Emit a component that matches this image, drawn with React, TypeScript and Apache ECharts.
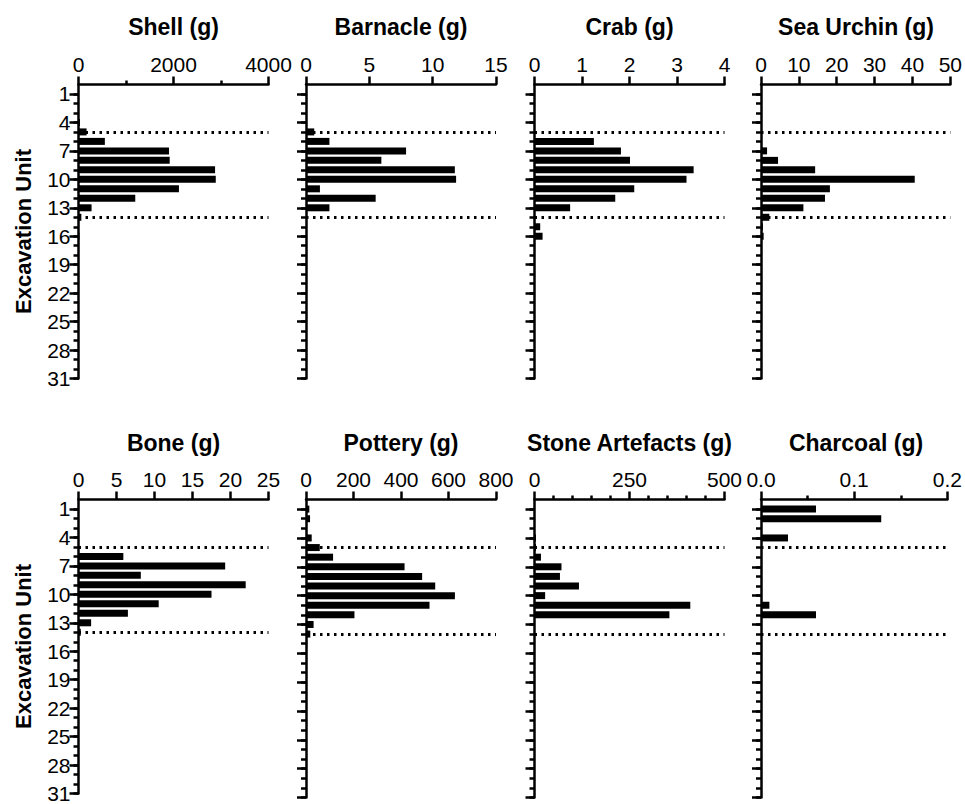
import React, { useEffect, useRef } from 'react';
import * as echarts from 'echarts';

// Category labels: excavation units 0..31 (0 is the empty top slot)
const unitLabels = ['0', '1', '2', '3', '4', '5', '6', '7', '8', '9', '10', '11', '12', '13', '14', '15', '16', '17', '18', '19', '20', '21', '22', '23', '24', '25', '26', '27', '28', '29', '30', '31'];

const panelTitles = ['Shell (g)', 'Barnacle (g)', 'Crab (g)', 'Sea Urchin (g)', 'Bone (g)', 'Pottery (g)', 'Stone Artefacts (g)', 'Charcoal (g)'];
const axisMax = [4000, 15, 4, 50, 25, 800, 500, 0.2];
const axisInterval = [2000, 5, 1, 10, 5, 200, 250, 0.1];
const axisMinorSplit = [2, 0, 0, 0, 0, 0, 5, 2];
const boundaryUnits = [5, 14];

// Values for units 1..31
const shell = [0, 0, 0, 30, 170, 555, 1905, 1920, 2875, 2890, 2115, 1195, 275, 60, 0, 20, 0, 0, 0, 0, 0, 0, 0, 0, 0, 0, 0, 0, 0, 0, 0];
const barnacle = [0, 0, 0, 0, 0.65, 1.85, 7.9, 5.95, 11.75, 11.85, 1.1, 5.5, 1.85, 0, 0, 0, 0, 0, 0, 0, 0, 0, 0, 0, 0, 0, 0, 0, 0, 0, 0];
const crab = [0, 0, 0, 0, 0, 1.25, 1.82, 2.01, 3.35, 3.2, 2.1, 1.7, 0.75, 0, 0.12, 0.17, 0, 0, 0, 0, 0, 0, 0, 0, 0, 0, 0, 0, 0, 0, 0];
const seaUrchin = [0, 0, 0, 0, 0, 0, 1.6, 4.5, 14.3, 40.6, 18.2, 16.9, 11.2, 2.2, 0.5, 0.7, 0, 0, 0, 0, 0, 0, 0, 0, 0, 0, 0, 0, 0, 0, 0];
const bone = [0, 0, 0, 0, 0, 5.9, 19.3, 8.2, 22.0, 17.5, 10.55, 6.5, 1.66, 0.3, 0, 0, 0, 0, 0, 0, 0, 0, 0, 0, 0, 0, 0, 0, 0, 0, 0];
const pottery = [14, 17, 0, 24, 58, 114, 415, 489, 544, 627, 520, 204, 32, 18, 5, 0, 0, 0, 0, 0, 0, 0, 0, 0, 0, 0, 0, 0, 0, 0, 0];
const stoneArtefacts = [0, 0, 0, 4, 4, 17, 71, 67, 117, 28, 410, 355, 0, 0, 0, 0, 0, 0, 0, 0, 0, 0, 0, 0, 0, 0, 0, 0, 0, 0, 0];
const charcoal = [0.059, 0.129, 0, 0.029, 0, 0, 0, 0, 0, 0, 0.009, 0.059, 0, 0, 0, 0, 0, 0, 0, 0, 0, 0, 0, 0, 0, 0, 0, 0, 0, 0, 0];

const panelData = [shell, barnacle, crab, seaUrchin, bone, pottery, stoneArtefacts, charcoal];

const FONT = '"Liberation Sans", Arial, Helvetica, sans-serif';
const colLeft = [78.5, 306, 534.5, 761];
const gridWidth = 190;
const rowTop = [84.5, 499.5];
const rowHeight = [294, 298];
const titleY = [27, 443];

function buildOption() {
  const grid: any[] = [];
  const xAxis: any[] = [];
  const yAxis: any[] = [];
  const series: any[] = [];
  const graphic: any[] = [];
  const lineW = 2.5;

  panelTitles.forEach((title, i) => {
    const row = Math.floor(i / 4);
    const col = i % 4;
    grid.push({ left: colLeft[col], top: rowTop[row], width: gridWidth, height: rowHeight[row], containLabel: false });
    xAxis.push({
      type: 'value', gridIndex: i, position: 'top', min: 0, max: axisMax[i], interval: axisInterval[i],
      axisLine: { show: true, lineStyle: { color: '#000', width: lineW } },
      axisTick: { show: true, length: 8, lineStyle: { color: '#000', width: lineW } },
      minorTick: { show: axisMinorSplit[i] > 0, splitNumber: axisMinorSplit[i] || 5, length: 4, lineStyle: { color: '#000', width: lineW } },
      splitLine: { show: false },
      axisLabel: {
        show: true, color: '#000', fontSize: 21, fontFamily: FONT, margin: 10,
        formatter: i === 7 ? (v: number) => v.toFixed(1) : (v: number) => String(v),
      },
    });
    // minor-tick axis (carries the bars)
    yAxis.push({
      type: 'category', gridIndex: i, position: 'left', inverse: true, boundaryGap: false, data: unitLabels,
      axisLine: { show: true, onZero: false, lineStyle: { color: '#000', width: lineW } },
      axisTick: { show: true, length: 5, interval: (idx: number) => idx >= 1, lineStyle: { color: '#000', width: lineW } },
      axisLabel: { show: false },
      splitLine: { show: false },
    });
    // major-tick axis with labels
    yAxis.push({
      type: 'category', gridIndex: i, position: 'left', inverse: true, boundaryGap: false, data: unitLabels,
      axisLine: { show: false },
      axisTick: { show: true, length: 9, interval: (idx: number) => idx % 3 === 1, lineStyle: { color: '#000', width: lineW } },
      axisLabel: {
        show: col === 0, interval: (idx: number) => idx % 3 === 1,
        color: '#000', fontSize: 21, fontFamily: FONT, margin: 8,
      },
      splitLine: { show: false },
      name: col === 0 ? 'Excavation Unit' : '',
      nameLocation: 'middle',
      nameGap: 44,
      nameTextStyle: { color: '#000', fontSize: 22, fontWeight: 'bold', fontFamily: FONT },
    });
    series.push({
      type: 'bar', xAxisIndex: i, yAxisIndex: 2 * i,
      data: [null, ...panelData[i].map((v) => (v === 0 ? null : v))],
      barWidth: 7,
      itemStyle: { color: '#000' },
      markLine: {
        silent: true, symbol: 'none', label: { show: false },
        lineStyle: { color: '#000', type: [2.5, 4.5], width: 2.8 },
        data: boundaryUnits.map((u) => ({ yAxis: u })),
      },
    });
    graphic.push({
      type: 'text', x: colLeft[col] + gridWidth / 2, y: titleY[row],
      style: { text: title, fill: '#000', font: `bold 23px ${FONT}`, textAlign: 'center', textVerticalAlign: 'middle' },
    });
  });

  return { animation: false, backgroundColor: '#fff', grid, xAxis, yAxis, series, graphic };
}

export default function App() {
  const ref = useRef<HTMLDivElement>(null);
  useEffect(() => {
    if (!ref.current) return;
    const chart = echarts.init(ref.current, undefined, { renderer: 'svg' });
    chart.setOption(buildOption() as any);
    return () => chart.dispose();
  }, []);
  return <div ref={ref} style={{ position: 'fixed', left: 0, top: 0, width: 965, height: 804 }} />;
}
